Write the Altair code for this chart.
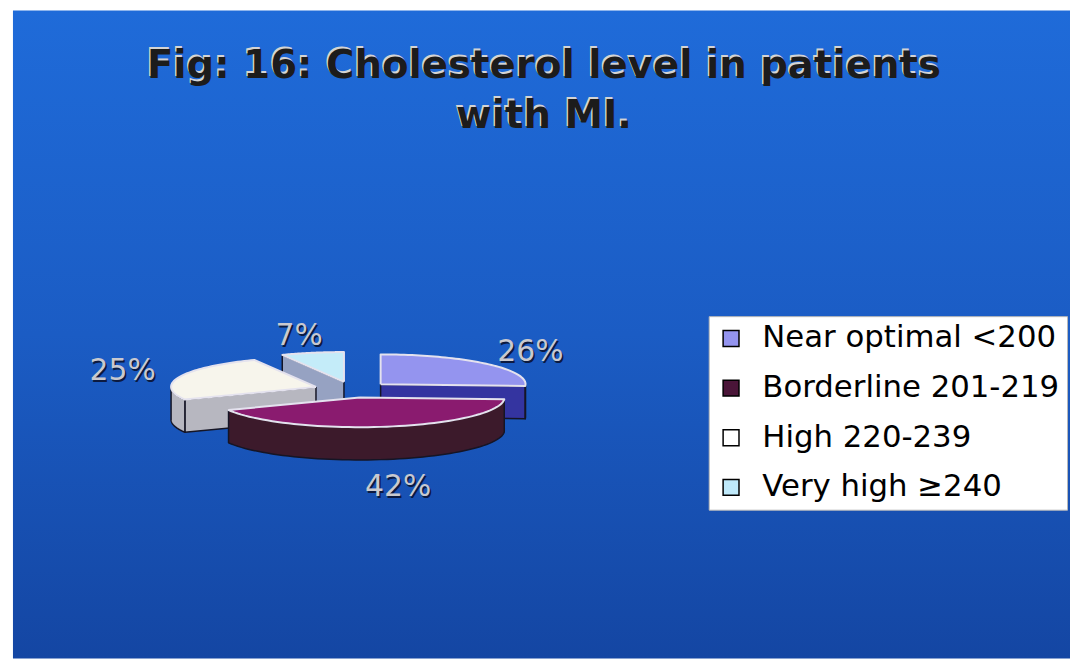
import math
import pandas as pd
import altair as alt

# ---------------- data ----------------
categories = ["Near optimal <200", "Borderline 201-219", "High 220-239", "Very high ≥240"]
values = [26, 42, 25, 7]
title_lines = ["Fig: 16: Cholesterol level in patients", "with MI."]

# ---------------- styles ----------------
top_fill = {
    categories[0]: "#9494ef",
    categories[1]: "#8a1b6f",
    categories[2]: "#f7f5ec",
    categories[3]: "#c4ecf9",
}
side_fill = {
    categories[0]: "#3434a0",
    categories[1]: "#3c1a2b",
    categories[2]: "#b7b7c0",
    categories[3]: "#96a2c2",
}
legend_colors = ["#9494ef", "#4a1538", "#ffffff", "#bfe9fa"]

W, H = 1070, 655
CX, CY = 347, 382      # pie centre (plot units = pixels)
RX, RY = 146, 30       # ellipse radii of the tilted pie
EXP = 39               # explode distance (x units)
EY = EXP * RY / RX
D = 33                 # pie thickness
N = 60                 # arc resolution
LRX, LRY, LDOWN = 246, 55, 45

df = pd.DataFrame({"category": categories, "value": values, "idx": list(range(len(values)))})

xs = alt.Scale(domain=[0, W], nice=False, zero=False)
ys = alt.Scale(domain=[0, H], nice=False, zero=False, reverse=True)


def base():
    return (
        alt.Chart(df)
        .transform_window(cum="sum(value)", sort=[alt.SortField("idx")], frame=[None, 0])
        .transform_joinaggregate(total="sum(value)")
        .transform_calculate(a0="2*PI*(datum.cum-datum.value)/datum.total")
        .transform_calculate(a1="2*PI*datum.cum/datum.total")
        .transform_calculate(mid="(datum.a0+datum.a1)/2")
        .transform_calculate(cx=f"{CX}+{EXP}*sin(datum.mid)")
        .transform_calculate(cy=f"{CY}-{EY}*cos(datum.mid)")
    )


def enc(ch, xf="px", yf="py"):
    return ch.encode(
        x=alt.X(f"{xf}:Q", scale=xs, axis=None),
        y=alt.Y(f"{yf}:Q", scale=ys, axis=None),
        order=alt.Order("k:Q"),
    )


def top_layer(cat):
    b = (
        base()
        .transform_filter(alt.datum.category == cat)
        .transform_calculate(k=f"sequence(0,{N + 3})")
        .transform_flatten(["k"])
        .transform_calculate(t=f"clamp(datum.k-1,0,{N})/{N}")
        .transform_calculate(ang="datum.a0+datum.t*(datum.a1-datum.a0)")
        .transform_calculate(isc=f"datum.k==0 || datum.k=={N + 2}")
        .transform_calculate(px=f"datum.isc ? datum.cx : datum.cx+{RX}*sin(datum.ang)")
        .transform_calculate(py=f"datum.isc ? datum.cy : datum.cy-{RY}*cos(datum.ang)")
    )
    return enc(b.mark_line(filled=True, fill=top_fill[cat], stroke="#e4e2ee",
                           strokeWidth=2, strokeJoin="round"))


def wall_layer(cat):
    b = (
        base()
        .transform_filter(alt.datum.category == cat)
        .transform_calculate(s="max(datum.a0, PI/2)")
        .transform_calculate(e="min(datum.a1, 3*PI/2)")
        .transform_filter("datum.e > datum.s + 0.001")
        .transform_calculate(k=f"sequence(0,{2 * N + 3})")
        .transform_flatten(["k"])
        .transform_calculate(
            ang=f"datum.k<={N} ? datum.s+datum.k/{N}*(datum.e-datum.s) : "
                f"(datum.k<={2 * N + 1} ? datum.e-(datum.k-{N + 1})/{N}*(datum.e-datum.s) : datum.s)")
        .transform_calculate(off=f"(datum.k>{N} && datum.k<={2 * N + 1}) ? {D} : 0")
        .transform_calculate(px=f"datum.cx+{RX}*sin(datum.ang)")
        .transform_calculate(py=f"datum.cy-{RY}*cos(datum.ang)+datum.off")
    )
    return enc(b.mark_line(filled=True, fill=side_fill[cat], stroke="#151525",
                           strokeWidth=1.5, strokeJoin="round"))


def face_layer(cat, which):
    if which == "end":
        th, vis = "datum.a1", "sin(datum.a1) > 0.01"
    else:
        th, vis = "datum.a0", "sin(datum.a0) < -0.01"
    b = (
        base()
        .transform_filter(alt.datum.category == cat)
        .transform_calculate(th=th)
        .transform_filter(vis)
        .transform_calculate(k="sequence(0,5)")
        .transform_flatten(["k"])
        .transform_calculate(rim="(datum.k==1 || datum.k==2) ? 1 : 0")
        .transform_calculate(off=f"(datum.k==2 || datum.k==3) ? {D} : 0")
        .transform_calculate(px=f"datum.cx+datum.rim*{RX}*sin(datum.th)")
        .transform_calculate(py=f"datum.cy-datum.rim*{RY}*cos(datum.th)+datum.off")
    )
    return enc(b.mark_line(filled=True, fill=side_fill[cat], stroke="#151525",
                           strokeWidth=1.5, strokeJoin="round"))


# drawing order: back to front (largest cos of mid angle first)
tot = sum(values)
mids = []
acc = 0
for c, v in zip(categories, values):
    mids.append((math.cos(2 * math.pi * (acc + v / 2) / tot), c))
    acc += v
draw_order = [c for _, c in sorted(mids, reverse=True)]

# background
one = pd.DataFrame({"a": [0]})
grad = alt.Gradient(
    gradient="linear",
    stops=[
        alt.GradientStop(color="#1f6bd9", offset=0),
        alt.GradientStop(color="#1b5cc4", offset=0.5),
        alt.GradientStop(color="#1446a3", offset=1),
    ],
    x1=0, x2=0, y1=0, y2=1,
)
bg = alt.Chart(one).mark_rect(fill=grad).encode(
    x=alt.value(5), x2=alt.value(W), y=alt.value(0), y2=alt.value(H - 2)
)

title_kw = dict(text=title_lines, font="DejaVu Sans", fontWeight="bold", fontSize=39,
                align="center", baseline="alphabetic", lineHeight=50)
title_hi = alt.Chart(one).mark_text(color="#d4d4d4", dx=-1.5, dy=-1.5, **title_kw).encode(
    x=alt.value(540), y=alt.value(68))
title_main = alt.Chart(one).mark_text(color="#1c1c1c", **title_kw).encode(
    x=alt.value(540), y=alt.value(68))

# legend (its marks sit hidden under the slices)
legend_layer = (
    base()
    .transform_calculate(px=f"datum.cx+0.5*{RX}*sin(datum.mid)")
    .transform_calculate(py=f"datum.cy-0.5*{RY}*cos(datum.mid)")
    .mark_square(size=60, stroke="black", strokeWidth=1.5, opacity=1)
    .encode(
        x=alt.X("px:Q", scale=xs, axis=None),
        y=alt.Y("py:Q", scale=ys, axis=None),
        fill=alt.Fill(
            "category:N",
            scale=alt.Scale(domain=categories, range=legend_colors),
            legend=alt.Legend(
                title=None, orient="none", legendX=706, legendY=308,
                fillColor="white", strokeColor="#b8b8b8", padding=7,
                labelFont="DejaVu Sans", labelFontSize=31, labelColor="black",
                labelLimit=500, symbolType="square", symbolSize=256,
                symbolStrokeColor="black", symbolStrokeWidth=1.5,
                rowPadding=18, labelOffset=16,
            ),
        ),
    )
)

slice_layers = []
for c in draw_order:
    slice_layers += [face_layer(c, "start"), face_layer(c, "end"), wall_layer(c), top_layer(c)]

lab_base = (
    base()
    .transform_calculate(px=f"{CX}+{LRX}*sin(datum.mid)")
    .transform_calculate(py=f"{CY}-{LRY}*cos(datum.mid)+max(0,-cos(datum.mid))*{LDOWN}")
    .transform_calculate(lab="datum.value+'%'")
)
lab_kw = dict(font="DejaVu Sans", fontSize=30, align="center", baseline="middle")
lab_shadow = lab_base.mark_text(color="#0c1a40", dx=1.5, dy=1.5, **lab_kw).encode(
    x=alt.X("px:Q", scale=xs, axis=None), y=alt.Y("py:Q", scale=ys, axis=None), text="lab:N")
lab_text = lab_base.mark_text(color="#c9c9cf", **lab_kw).encode(
    x=alt.X("px:Q", scale=xs, axis=None), y=alt.Y("py:Q", scale=ys, axis=None), text="lab:N")

chart = (
    alt.layer(bg, title_hi, title_main, legend_layer, *slice_layers, lab_shadow, lab_text)
    .properties(width=W, height=H, padding=0, autosize="none")
    .configure_view(strokeWidth=0)
)

chart.save("out.html", embed_options={"renderer": "svg", "actions": False})
